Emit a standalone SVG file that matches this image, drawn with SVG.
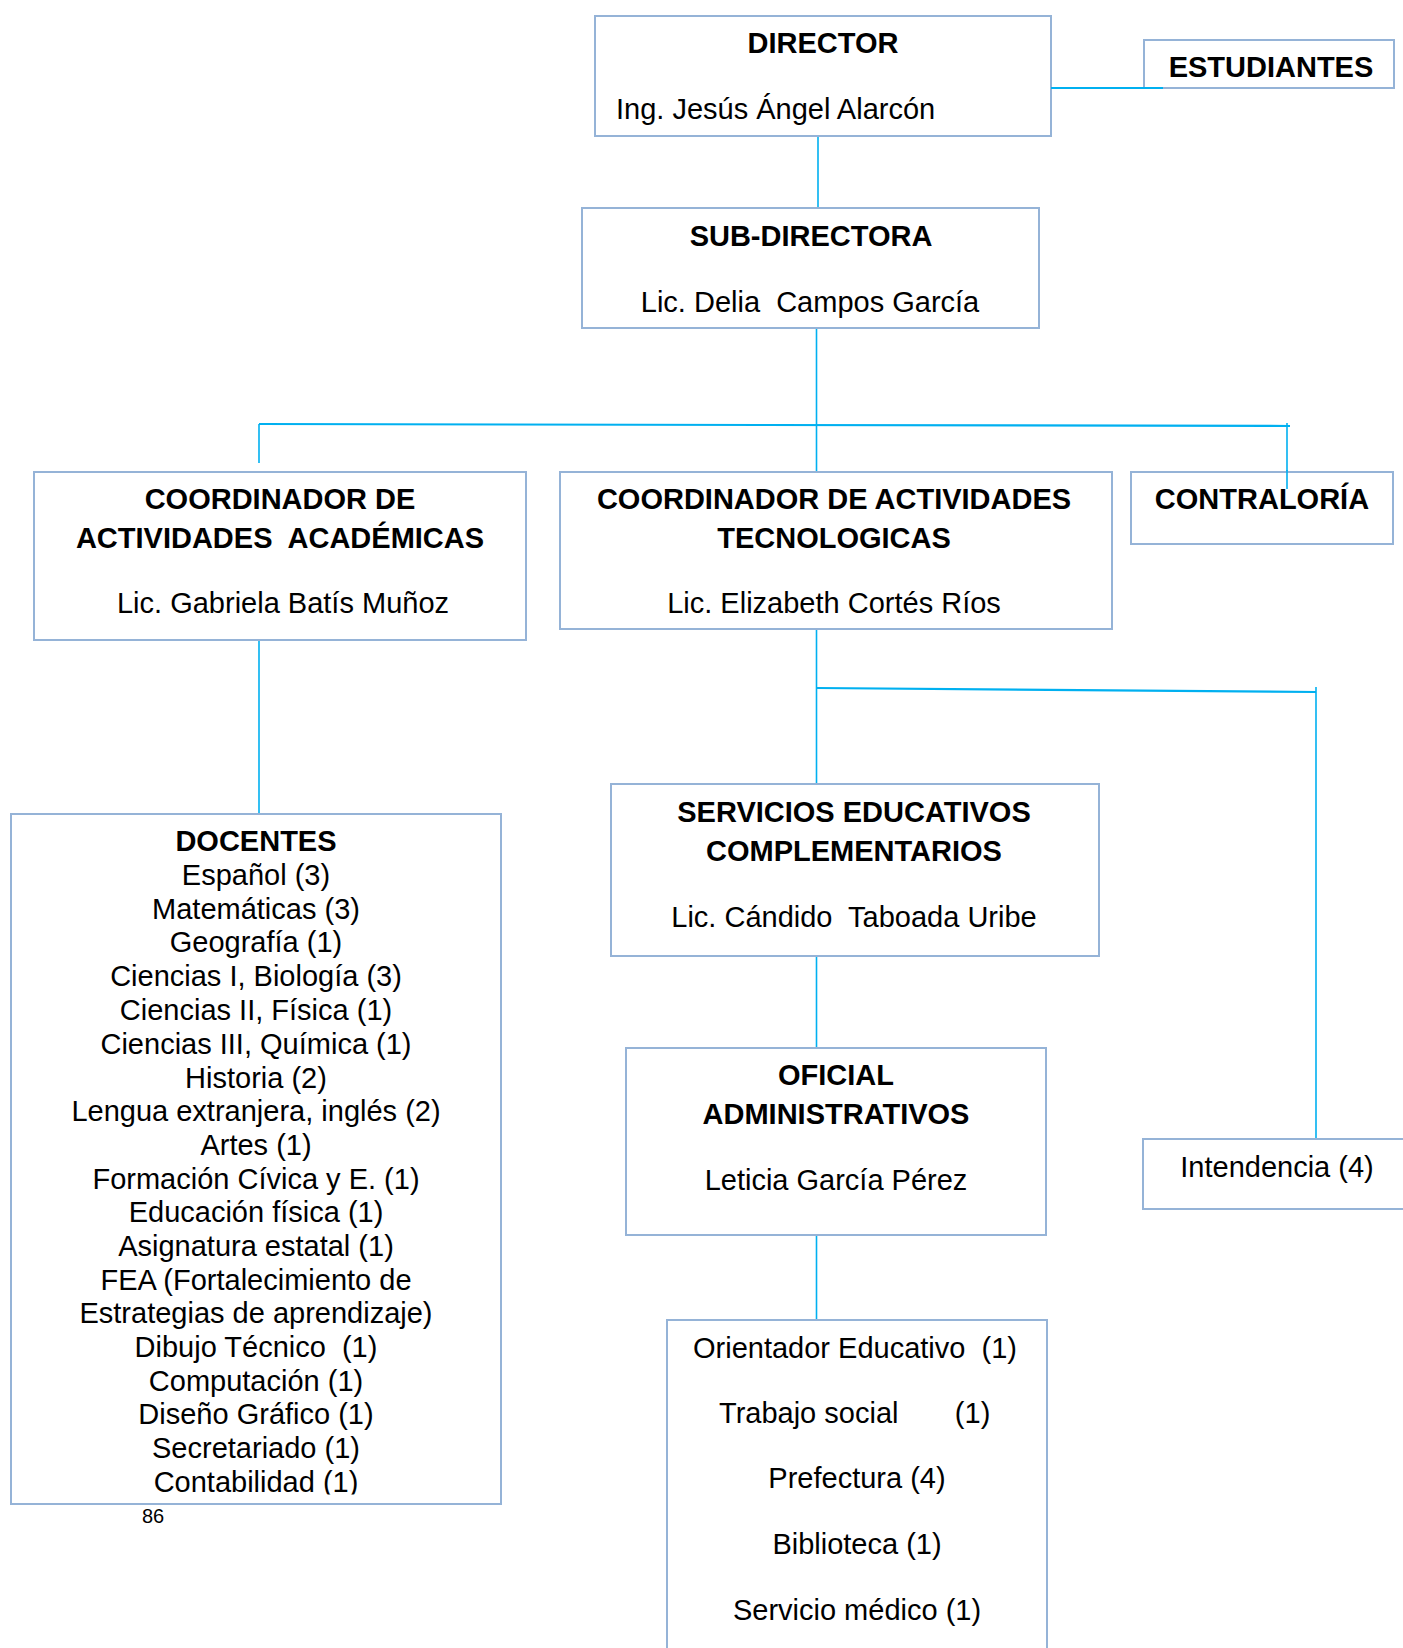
<svg xmlns="http://www.w3.org/2000/svg" width="1403" height="1648" viewBox="0 0 1403 1648">
<style>
.box{fill:#ffffff;stroke:#95B3D7;stroke-width:2}
.con{stroke:#00B0F0;stroke-width:1.6;fill:none}
.thick{stroke-width:2.2}
text{font-family:"Liberation Sans",Arial,sans-serif;font-size:29px;fill:#000}
.b{font-weight:bold}
.c{text-anchor:middle}
</style>
<defs>
<clipPath id="docClip"><rect x="11" y="814" width="490" height="680.5"/></clipPath>
</defs>
<rect width="1403" height="1648" fill="#ffffff"/>
<g id="connectors">
<line class="con thick" x1="1051" y1="88" x2="1163" y2="88"/>
<line class="con" x1="818" y1="136" x2="818" y2="208"/>
<line class="con" x1="816.5" y1="328" x2="816.5" y2="472"/>
<line class="con thick" x1="259" y1="424" x2="1290" y2="426"/>
<line class="con" x1="259" y1="424" x2="259" y2="463"/>
<line class="con" x1="1287" y1="423" x2="1287" y2="489"/>
<line class="con" x1="259" y1="640" x2="259" y2="814"/>
<line class="con" x1="816.5" y1="629" x2="816.5" y2="784"/>
<line class="con thick" x1="816.5" y1="688" x2="1316" y2="692"/>
<line class="con" x1="1316" y1="687" x2="1316" y2="1139"/>
<line class="con" x1="816.5" y1="956" x2="816.5" y2="1048"/>
<line class="con" x1="816.5" y1="1235" x2="816.5" y2="1320"/>
</g>
<g id="director">
<rect class="box" x="595" y="16" width="456" height="120"/>
<text class="b c" x="823" y="53">DIRECTOR</text>
<text x="616" y="119">Ing. Jesús Ángel Alarcón</text>
</g>
<g id="estudiantes">
<rect class="box" x="1144" y="40" width="250" height="48"/>
<text class="b c" x="1271" y="77">ESTUDIANTES</text>
</g>
<line class="con thick" x1="1051" y1="88" x2="1163" y2="88"/>
<g id="subdirectora">
<rect class="box" x="582" y="208" width="457" height="120"/>
<text class="b c" x="811" y="246">SUB-DIRECTORA</text>
<text class="c" x="810" y="312" xml:space="preserve">Lic. Delia  Campos García</text>
</g>
<g id="coord-academicas">
<rect class="box" x="34" y="472" width="492" height="168"/>
<text class="b c" x="280" y="509">COORDINADOR DE</text>
<text class="b c" x="280" y="548" xml:space="preserve">ACTIVIDADES  ACADÉMICAS</text>
<text class="c" x="283" y="613">Lic. Gabriela Batís Muñoz</text>
</g>
<g id="coord-tecnologicas">
<rect class="box" x="560" y="472" width="552" height="157"/>
<text class="b c" x="834" y="509">COORDINADOR DE ACTIVIDADES</text>
<text class="b c" x="834" y="548">TECNOLOGICAS</text>
<text class="c" x="834" y="613">Lic. Elizabeth Cortés Ríos</text>
</g>
<g id="contraloria">
<rect class="box" x="1131" y="472" width="262" height="72"/>
<text class="b c" x="1262" y="509">CONTRALORÍA</text>
</g>
<line class="con" x1="1287" y1="470" x2="1287" y2="489"/>
<g id="docentes">
<rect class="box" x="11" y="814" width="490" height="690"/>
<g clip-path="url(#docClip)">
<text class="b c" x="256" y="851">DOCENTES</text>
<text class="c" x="256" y="885">Español (3)</text>
<text class="c" x="256" y="919">Matemáticas (3)</text>
<text class="c" x="256" y="952">Geografía (1)</text>
<text class="c" x="256" y="986">Ciencias I, Biología (3)</text>
<text class="c" x="256" y="1020">Ciencias II, Física (1)</text>
<text class="c" x="256" y="1054">Ciencias III, Química (1)</text>
<text class="c" x="256" y="1088">Historia (2)</text>
<text class="c" x="256" y="1121">Lengua extranjera, inglés (2)</text>
<text class="c" x="256" y="1155">Artes (1)</text>
<text class="c" x="256" y="1189">Formación Cívica y E. (1)</text>
<text class="c" x="256" y="1222">Educación física (1)</text>
<text class="c" x="256" y="1256">Asignatura estatal (1)</text>
<text class="c" x="256" y="1290">FEA (Fortalecimiento de</text>
<text class="c" x="256" y="1323">Estrategias de aprendizaje)</text>
<text class="c" x="256" y="1357" xml:space="preserve">Dibujo Técnico  (1)</text>
<text class="c" x="256" y="1391">Computación (1)</text>
<text class="c" x="256" y="1424">Diseño Gráfico (1)</text>
<text class="c" x="256" y="1458">Secretariado (1)</text>
<text class="c" x="256" y="1492">Contabilidad (1)</text>
</g>
</g>
<g id="servicios">
<rect class="box" x="611" y="784" width="488" height="172"/>
<text class="b c" x="854" y="822">SERVICIOS EDUCATIVOS</text>
<text class="b c" x="854" y="861">COMPLEMENTARIOS</text>
<text class="c" x="854" y="927" xml:space="preserve">Lic. Cándido  Taboada Uribe</text>
</g>
<g id="oficial">
<rect class="box" x="626" y="1048" width="420" height="187"/>
<text class="b c" x="836" y="1085">OFICIAL</text>
<text class="b c" x="836" y="1124">ADMINISTRATIVOS</text>
<text class="c" x="836" y="1190">Leticia García Pérez</text>
</g>
<g id="intendencia">
<rect class="box" x="1143" y="1139" width="270" height="70"/>
<text class="c" x="1277" y="1177">Intendencia (4)</text>
</g>
<g id="servicios-lista">
<rect class="box" x="667" y="1320" width="380" height="340"/>
<text x="693" y="1358" xml:space="preserve">Orientador Educativo  (1)</text>
<text x="719" y="1423" xml:space="preserve">Trabajo social       (1)</text>
<text class="c" x="857" y="1488">Prefectura (4)</text>
<text class="c" x="857" y="1554">Biblioteca (1)</text>
<text class="c" x="857" y="1620">Servicio médico (1)</text>
</g>
<text x="142" y="1523" style="font-size:20px">86</text>
</svg>
